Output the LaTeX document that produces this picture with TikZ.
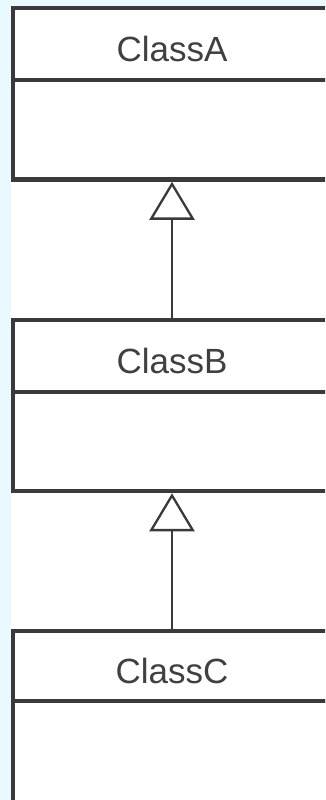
\documentclass[tikz,border=0pt]{standalone}
\usepackage{fontspec}
\setmainfont{Liberation Sans}
\usetikzlibrary{arrows.meta}
\definecolor{bg}{RGB}{232,249,255}
\definecolor{ink}{RGB}{58,58,58}
\definecolor{txt}{RGB}{64,64,64}
\begin{document}
\begin{tikzpicture}[x=1pt,y=-1pt,
  part/.style={draw=ink, line width=4.5pt, fill=white, minimum width=318pt, inner sep=0pt, outer sep=0pt, anchor=north west},
  lbl/.style={text=txt, font=\fontsize{35}{42}\selectfont, inner sep=0pt},
  inherit/.style={draw=ink, line width=2.3pt, shorten >=2.25pt, -{Triangle[length=38pt, width=45pt, fill=white]}}]
\useasboundingbox (0,0) rectangle (325,800);
\clip (0,0) rectangle (325,800);
\fill[bg] (0,0) rectangle (325,800);
\fill[white] (11,6) rectangle (325,800);
% ClassA
\node[part, minimum height=72pt] (Ahead) at (13,8) {};
\node[part, minimum height=99.5pt] (Abody) at (13,80) {};
\node[lbl] (Alabel) at ([yshift=-5pt]Ahead.center) {ClassA};
% ClassB
\node[part, minimum height=72pt] (Bhead) at (13,320) {};
\node[part, minimum height=99pt] (Bbody) at (13,392) {};
\node[lbl] (Blabel) at ([yshift=-4.5pt]Bhead.center) {ClassB};
% ClassC
\node[part, minimum height=70pt] (Chead) at (13,631) {};
\node[part, minimum height=130pt] (Cbody) at (13,701) {};
\node[lbl] (Clabel) at ([yshift=-4.5pt]Chead.center) {ClassC};
% generalisations
\draw[inherit] (Bhead.north) -- (Abody.south);
\draw[inherit] (Chead.north) -- (Bbody.south);
\end{tikzpicture}
\end{document}
